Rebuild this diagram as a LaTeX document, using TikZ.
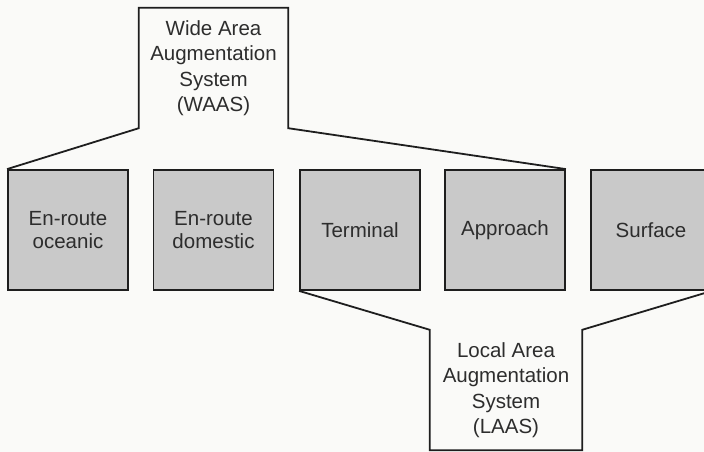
\documentclass[tikz,border=0pt]{standalone}
\usepackage{fontspec}
\setmainfont{Liberation Sans}
\definecolor{boxfill}{RGB}{201,201,201}
\definecolor{inkline}{RGB}{30,30,30}
\definecolor{inktext}{RGB}{45,45,45}
\definecolor{paper}{RGB}{250,250,248}
\tikzset{
  lvl/.style={draw=inkline, fill=boxfill, line width=1.8pt, minimum width=120pt, minimum height=120pt,
    inner sep=0pt, align=center, text=inktext, font=\fontsize{20.5}{23}\selectfont},
  sysbox/.style={minimum height=120pt, inner sep=0pt, align=center, text=inktext,
    font=\fontsize{20.5}{25.5}\selectfont},
  outline/.style={draw=inkline, line width=1.8pt, line join=miter}
}
\begin{document}
\begin{tikzpicture}[x=1pt,y=-1pt]
\useasboundingbox (0,0) rectangle (704,452);
\fill[paper] (0,0) rectangle (704,452);
\clip (0,0) rectangle (704,452);
\node[lvl] (b1) at (68,230) {En-route\\oceanic};
\node[lvl] (b2) at (213.5,230) {En-route\\domestic};
\node[lvl] (b3) at (360,230) {Terminal};
\node[lvl] (b4) at (505,230) {Approach};
\node[lvl] (b5) at (651,230) {Surface};
\node[sysbox, minimum width=149pt] (waas) at (213.5,68) {Wide Area\\Augmentation\\System\\(WAAS)};
\node[sysbox, minimum width=152pt] (laas) at (506,390) {Local Area\\Augmentation\\System\\(LAAS)};
\draw[outline] (b1.north west) -- (waas.south west) -- (waas.north west) -- (waas.north east) -- (waas.south east) -- (b4.north east);
\draw[outline] (b3.south west) -- (laas.north west) -- (laas.south west) -- (laas.south east) -- (laas.north east) -- (b5.south east);
\end{tikzpicture}
\end{document}
